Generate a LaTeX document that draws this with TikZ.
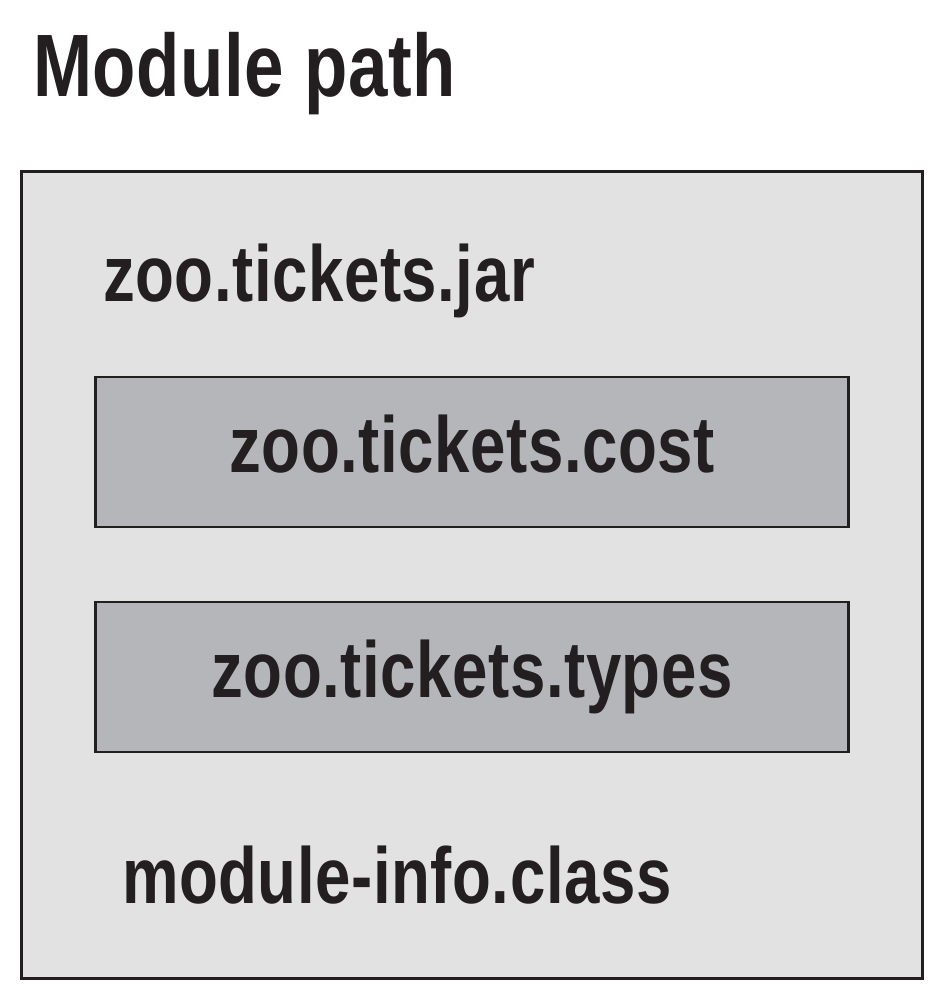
\documentclass[tikz,border=0pt]{standalone}
\usepackage{fontspec}
\setmainfont{Liberation Sans}[FakeStretch=0.8, LetterSpace=0.7]
\definecolor{pathgray}{HTML}{E2E2E2}
\definecolor{pkggray}{HTML}{B5B6B9}
\definecolor{inkdark}{HTML}{231F20}
\begin{document}
\begin{tikzpicture}[x=0.01cm, y=-0.01cm, every node/.style={inner sep=0pt, outer sep=0pt, text=inkdark, font=\bfseries\fontsize{22.6}{27}\selectfont},
	pathbox/.style={draw=inkdark, fill=pathgray, line width=0.8pt, minimum width=9cm, minimum height=8.06cm},
	pkgbox/.style={draw=inkdark, fill=pkggray, line width=0.8pt, minimum width=7.52cm, minimum height=1.5cm},
	caption/.style={font=\bfseries\fontsize{25.2}{29}\selectfont}]

		\useasboundingbox (0,0) rectangle (936,992);

		\node[caption, anchor=base west] (title) at (33,97) {Module path};
		\node[pathbox] (modpath) at (472,575) {};
		\node[anchor=base west] (jar) at (103,302) {zoo.tickets.jar};
		\node[pkgbox] (cost) at (472,452) {};
		\node[anchor=base] (costlabel) at (472,472) {zoo.tickets.cost};
		\node[pkgbox] (types) at (472,677) {};
		\node[anchor=base] (typeslabel) at (472,697) {zoo.tickets.types};
		\node[anchor=base west] (info) at (122,903) {module-info.class};
	\end{tikzpicture}
\end{document}
